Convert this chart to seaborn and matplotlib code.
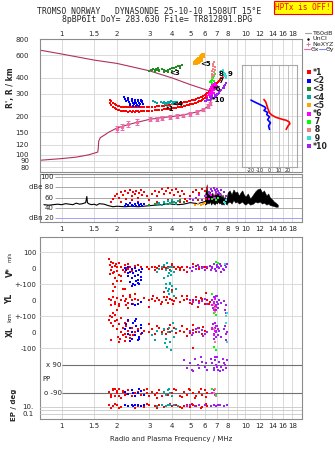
import matplotlib
matplotlib.use("Agg")
import matplotlib.pyplot as plt
from matplotlib.lines import Line2D
from matplotlib.ticker import NullLocator
import seaborn as sns

# ---------------- data ----------------
FREQ_GRID = [1, 1.5, 2, 3, 4, 5, 6, 7, 8, 9, 10, 12, 14, 16, 18]
FREQ_LABELS_OUTER = ['1', '1.5', '2', '3', '4', '5', '6', '7', '8', '', '10', '12', '14', '16', '18']
FREQ_LABELS_MID = ['1', '1.5', '2', '3', '4', '5', '6', '7', '8', '9', '10', '12', '14', '16', '18']
HEIGHT_TICKS = [80, 90, 100, 120, 150, 200, 300, 400, 600, 800]
DBE_TICKS = [100, 80, 60, 40, 20]
DBE_LABELS = ['100', 'dBe 80', '60', '40', 'dBn 20']
TILT_TICKS = [-20, -10, 0, 10, 20]

# main ionogram: trace 1 (band edges)
RED_F = [1.82, 1.86, 1.90, 1.94, 1.98, 2.02, 2.06, 2.10, 2.15, 2.20,
         2.25, 2.30, 2.35, 2.40, 2.45, 2.50, 2.55, 2.60, 2.65, 2.70,
         2.75, 2.80, 2.90, 3.00, 3.10, 3.20, 3.30, 3.40, 3.50, 3.60,
         3.70, 3.80, 3.90, 4.00, 4.10, 4.20, 4.30, 4.40, 4.50, 4.60,
         4.70, 4.80, 4.90, 5.00, 5.10, 5.20, 5.30, 5.40, 5.50, 5.60,
         5.70, 5.80, 5.90, 6.00, 6.10, 6.20, 6.30, 6.40, 6.50, 6.60]
RED_UP = [268, 262, 255, 250, 246, 242, 240, 238, 237, 236,
          236, 235, 236, 235, 236, 235, 236, 236, 235, 236,
          236, 237, 236, 236, 237, 238, 239, 240, 241, 242,
          243, 244, 246, 247, 248, 250, 251, 253, 255, 256,
          258, 260, 262, 264, 266, 268, 270, 272, 275, 278,
          281, 284, 288, 292, 297, 302, 308, 314, 322, 330]
RED_LO = [254, 246, 238, 232, 228, 224, 222, 220, 219, 218,
          218, 217, 218, 217, 218, 217, 218, 218, 217, 218,
          218, 219, 219, 220, 221, 222, 223, 224, 225, 226,
          227, 228, 229, 230, 231, 233, 234, 236, 238, 239,
          241, 243, 245, 247, 249, 251, 253, 255, 258, 261,
          264, 267, 271, 275, 280, 285, 291, 297, 305, 313]
RED_X = [(6.65, 335), (6.72, 345), (6.8, 352), (6.9, 360), (7.0, 366), (7.1, 372),
         (7.2, 378), (7.3, 386), (7.4, 395), (7.5, 405), (7.6, 416), (7.7, 428)]
BLUE_MAIN = [(2.18, 282), (2.22, 272), (2.25, 262), (2.30, 268), (2.33, 258), (2.36, 250),
             (2.40, 262), (2.43, 255), (2.46, 248), (2.50, 258), (2.53, 252), (2.56, 246),
             (2.60, 262), (2.63, 254), (2.66, 248), (2.70, 264), (2.74, 256), (2.78, 250),
             (2.30, 276), (2.40, 272), (2.50, 270), (2.60, 268), (2.70, 270), (2.45, 242),
             (2.55, 240), (2.65, 242), (2.35, 244), (2.75, 262)]
GREEN_MAIN = [(3.00, 450), (3.05, 462), (3.10, 456), (3.15, 470), (3.20, 455), (3.25, 466),
              (3.30, 460), (3.35, 472), (3.40, 462), (3.50, 468), (3.60, 458), (3.70, 452),
              (3.80, 458), (3.90, 466), (4.00, 472), (4.10, 478), (4.20, 485), (4.30, 490),
              (4.40, 496), (4.50, 502), (3.20, 445), (3.40, 448), (3.60, 444), (3.80, 442),
              (4.00, 452), (4.20, 462), (4.40, 474)]
TEAL_MAIN = [(3.12, 262), (3.20, 258), (3.30, 254), (3.45, 256), (3.55, 252), (3.60, 258),
             (3.70, 254), (3.75, 250), (3.80, 258), (3.85, 252), (3.90, 256), (4.00, 250),
             (4.05, 258), (4.10, 254), (4.20, 252), (4.25, 256), (3.65, 248), (3.95, 262),
             (4.15, 260)]
ORANGE_MAIN = [(5.30, 518), (5.35, 522), (5.40, 528), (5.45, 535), (5.50, 542), (5.55, 548),
               (5.60, 555), (5.65, 562), (5.70, 570), (5.75, 578), (5.80, 585), (5.85, 592),
               (5.90, 600), (5.50, 530), (5.60, 540), (5.70, 552)]
MAGENTA_MAIN = [(6.20, 290), (6.30, 295), (6.35, 300), (6.40, 305), (6.45, 310), (6.50, 300),
                (6.55, 320), (6.60, 310), (6.65, 330), (6.70, 318), (6.75, 340), (6.80, 325),
                (6.85, 345), (6.90, 335), (6.95, 352), (7.00, 342), (6.40, 325), (6.50, 340),
                (6.60, 350), (6.70, 355), (6.80, 360), (6.50, 288), (6.60, 296), (6.70, 305),
                (6.45, 280), (6.55, 285)]
LIME_MAIN = [(6.45, 370), (6.50, 378), (6.55, 385), (6.60, 392), (6.65, 400), (6.70, 410),
             (6.75, 418), (6.80, 425), (6.60, 365), (6.70, 375)]
SALMON_MAIN = [(6.55, 410), (6.58, 430), (6.60, 450), (6.62, 470), (6.65, 490), (6.68, 510),
               (6.70, 530), (6.75, 420), (6.60, 400), (6.72, 440), (6.80, 460), (6.85, 480)]
CYAN_MAIN = [(7.30, 440), (7.40, 450), (7.50, 455), (7.55, 445), (7.60, 435), (7.70, 425),
             (7.80, 410), (7.85, 400), (7.50, 420), (7.65, 415)]
PURPLE_MAIN = [(6.00, 262), (6.10, 264), (6.20, 266), (6.30, 268), (6.40, 270), (6.50, 272),
               (6.60, 275), (6.70, 278), (6.80, 282), (6.90, 286), (7.00, 292), (7.10, 298),
               (7.20, 305), (7.30, 312), (7.40, 322), (7.50, 332), (7.60, 342), (7.70, 352),
               (7.80, 365), (6.20, 274), (6.40, 280), (6.60, 286), (6.80, 292), (7.00, 300),
               (7.20, 310), (7.40, 320), (7.60, 330)]
TRACE_LABELS = [("*1", 3.70, 227), ("<4", 3.98, 248), ("<3", 3.84, 431), ("<5", 5.66, 510),
                ("8", 7.1, 426), ("9", 8.04, 426), ("7", 7.1, 376), ("*6", 6.66, 324),
                ("*10", 6.58, 267)]

# NeXYZ points with error bars
NE_F = [2.0, 2.12, 2.3, 2.56, 3.03, 3.28, 3.53, 3.89, 4.23, 4.59, 4.99, 5.43, 5.9, 6.28, 6.42]
NE_H = [160, 165, 173, 181, 189, 191, 195, 197, 200, 203, 209, 215, 225, 240, 251]
NE_ERR = [9, 9, 9, 9, 7, 7, 7, 7, 7, 7, 7, 7, 7, 7, 7]

# real-height profile (bottomside + topside)
PROF_F = [0.757, 1.0, 1.2, 1.4, 1.5, 1.57, 1.58, 1.59, 1.62, 1.7, 1.8, 1.9, 2.0, 2.3, 2.6,
          3.0, 3.5, 4.0, 4.5, 5.0, 5.5, 5.9, 6.28, 6.42, 6.52, 6.6, 6.65, 6.5, 6.3, 6.15,
          5.0, 4.0, 3.0, 2.0, 1.5, 1.0, 0.757]
PROF_H = [90.7, 93.5, 96, 100, 103, 105, 112, 128, 136, 142, 150, 156, 162, 172, 180,
          189, 195, 199, 204, 210, 217, 226, 240, 251, 270, 295, 315, 317, 318, 320,
          353, 397, 452, 516, 548, 611, 656]

# tilt inset
TILT_BLUE_DEG = [-20, -16, -12, -8, -5, -4, -6, -2, -3, 0, -2, 1, -1, 0]
TILT_BLUE_H = [267, 258, 250, 242, 236, 230, 222, 214, 206, 198, 188, 178, 168, 158]
TILT_RED_DEG = [-6, -4, -3, -2, 0, 3, 7, 11, 14, 18, 21, 22, 20, 19, 18]
TILT_RED_H = [270, 258, 245, 232, 212, 203, 196, 192, 189, 186, 181, 175, 168, 163, 158]

# amplitude panel
NOISE_F = [0.80, 0.85, 0.90, 0.95, 1.00, 1.05, 1.10, 1.15, 1.20, 1.25, 1.30, 1.35, 1.37,
           1.38, 1.40, 1.45, 1.50, 1.55, 1.60, 1.70, 1.80, 1.90, 2.00, 2.20, 2.40, 2.60,
           2.80, 3.00, 3.20, 3.50, 3.80, 4.00, 4.30, 4.60, 5.00, 5.50, 6.00]
NOISE_DB = [46, 45, 46, 47, 46, 48, 47, 46, 49, 47, 48, 50, 62, 50, 48, 46, 47, 45, 48,
            47, 44, 42, 43, 42, 43, 42, 43, 44, 45, 46, 48, 47, 46, 47, 50, 48, 52]
BAND_F = [6.0, 6.15, 6.2, 6.3, 6.4, 6.5, 6.6, 6.7, 6.8, 6.9, 7.0, 7.1, 7.2, 7.3, 7.4,
          7.5, 7.6, 7.7, 7.8, 7.9, 8.0, 8.2, 8.4, 8.6, 8.8, 9.0, 9.2, 9.4, 9.6, 9.8,
          10.0, 10.3, 10.6, 11.0, 11.3, 11.6, 12.0, 12.3, 12.6, 13.0, 13.3, 13.6, 14.0,
          14.3, 14.6, 15.0]
BAND_HI = [60, 86, 70, 66, 72, 64, 70, 62, 68, 74, 66, 72, 64, 70, 60, 66, 58, 62, 56, 60,
           70, 74, 66, 76, 70, 72, 64, 70, 74, 66, 62, 68, 58, 66, 72, 76, 78, 70, 74, 64,
           68, 60, 56, 52, 50, 46]
BAND_LO = [46, 48, 50, 48, 52, 46, 50, 48, 46, 50, 48, 52, 48, 50, 46, 48, 46, 50, 48, 46,
           50, 52, 48, 55, 50, 52, 48, 50, 52, 48, 46, 50, 46, 48, 52, 50, 52, 48, 50, 46,
           48, 45, 44, 43, 42, 42]
RED_DB = [(1.85, 52), (1.9, 58), (1.95, 62), (2.0, 66), (2.05, 60), (2.1, 70), (2.15, 64),
          (2.2, 72), (2.25, 58), (2.3, 68), (2.35, 74), (2.4, 62), (2.45, 70), (2.5, 66),
          (2.55, 72), (2.6, 60), (2.65, 68), (2.7, 74), (2.75, 64), (2.8, 70), (2.9, 62),
          (3.0, 56), (3.1, 66), (3.2, 72), (3.3, 62), (3.4, 70), (3.5, 76), (3.6, 66),
          (3.7, 72), (3.8, 78), (3.9, 68), (4.0, 74), (4.1, 64), (4.2, 76), (4.3, 70),
          (4.4, 62), (4.5, 72), (4.6, 66), (4.7, 58), (4.8, 54), (5.0, 62), (5.2, 70),
          (5.4, 74), (5.6, 68), (5.8, 76), (6.0, 72), (6.2, 78), (6.4, 66), (2.1, 52),
          (2.4, 55), (2.6, 52), (3.3, 52), (3.8, 55), (4.4, 52), (5.5, 56), (6.1, 58)]
BLUE_DB = [(2.2, 44), (2.25, 48), (2.3, 45), (2.35, 50), (2.4, 46), (2.45, 43), (2.5, 48),
           (2.55, 44), (2.6, 50), (2.65, 46), (2.7, 48), (2.75, 44), (2.8, 47)]
TEAL_DB = [(3.3, 48), (3.4, 50), (3.5, 46), (3.6, 52), (3.7, 48), (3.8, 54), (3.9, 50),
           (4.0, 56), (4.1, 52), (4.2, 48), (4.3, 54)]
GREEN_DB = [(3.0, 46), (3.2, 48), (3.4, 47), (3.6, 50), (3.8, 48), (4.0, 52), (4.2, 50),
            (4.4, 56), (4.6, 52)]
ORANGE_DB = [(5.3, 46), (5.5, 48), (5.7, 45), (5.9, 47), (6.0, 49)]
PURPLE_DB = [(5.0, 58), (5.2, 55), (5.4, 60), (5.6, 64), (5.8, 56), (6.0, 62), (6.3, 70),
             (6.5, 76), (6.6, 72), (6.7, 78), (6.8, 74), (6.9, 70), (7.0, 76), (7.1, 72),
             (7.2, 68), (7.4, 74), (7.6, 70), (7.8, 62), (6.4, 66), (6.8, 60), (7.3, 64)]
MAGENTA_DB = [(6.1, 62), (6.3, 58), (6.5, 64), (6.7, 60), (6.9, 66)]
LIME_DB = [(6.6, 58), (6.9, 55), (7.1, 60)]
CYAN_DB = [(7.6, 52), (7.8, 55), (7.7, 50)]

# V* (m/s)
RED_V = [(1.8, 60), (1.82, 20), (1.85, 40), (1.88, 10), (1.9, 30), (1.92, -20), (1.95, 15),
         (1.98, 25), (2.0, 5), (2.05, 30), (2.1, 10), (2.15, -10), (2.2, 20), (2.25, 0),
         (2.3, 25), (2.35, 10), (2.4, -5), (2.5, 15), (2.6, 20), (2.7, 5), (2.9, 10),
         (3.0, -5), (3.1, 10), (3.2, 5), (3.3, 0), (3.4, 15), (3.5, -5), (3.6, 10),
         (3.7, 0), (3.8, 5), (3.9, -10), (4.0, 15), (4.1, 5), (4.2, -5), (4.3, 10),
         (4.4, 0), (4.5, 5), (4.6, -10), (4.8, 10), (5.0, 0), (5.2, 5), (5.4, 15),
         (5.6, -5), (5.8, 10), (6.0, 5), (6.2, 0), (1.85, -10), (1.9, -30), (1.95, -60),
         (2.0, -15), (2.05, -40), (2.1, -80), (2.2, -25), (2.3, -5), (2.4, -15),
         (3.2, -10), (3.6, 20), (4.0, 25), (4.4, -10), (4.8, -20), (5.2, 25),
         (1.82, -35), (1.9, -100), (1.95, -115), (2.0, -80), (2.1, -45), (2.15, -130)]
BLUE_V = [(2.2, 0), (2.25, -10), (2.3, 5), (2.35, -20), (2.4, -5), (2.45, -30), (2.5, 0),
          (2.55, -15), (2.6, -40), (2.65, -10), (2.7, -25), (2.75, -5), (2.3, -50),
          (2.4, -60), (2.5, -45), (2.6, -70), (2.7, -55), (2.35, -85), (2.45, -95),
          (2.55, -80), (2.65, -100), (2.4, -110), (2.5, -105), (2.6, -90), (2.3, -30),
          (2.7, -75)]
TEAL_V = [(3.3, -20), (3.4, -5), (3.5, 10), (3.6, 20), (3.7, -10), (3.75, 30), (3.8, 0),
          (3.85, -30), (3.9, 5), (3.95, -15), (4.0, 10), (4.1, -25), (3.6, -60),
          (3.8, -50), (3.9, -90), (4.0, -110), (3.7, -100), (3.85, -130), (3.95, -40)]
PURPLE_V = [(5.0, 0), (5.2, 5), (5.4, -5), (5.6, 10), (5.8, 0), (6.0, -10), (6.2, 5),
            (6.4, 15), (6.6, 10), (6.8, -5), (7.0, 20), (7.2, 0), (7.4, 15), (7.6, -10),
            (7.8, 10), (5.1, -15), (5.5, 20), (5.9, 5), (6.5, -10), (6.7, 25), (6.9, -15),
            (7.1, 10), (7.3, 25), (7.5, -5), (7.7, 20), (6.6, 0), (7.0, 5), (7.4, -20),
            (7.9, 25)]
LIME_V = [(6.9, 40), (7.1, 30)]
CYAN_V = [(7.7, 25)]

# YL (km)
RED_YL = [(1.8, 10), (1.85, 0), (1.9, 20), (1.95, -10), (2.0, 15), (2.05, -20), (2.1, 5),
          (2.15, 25), (2.2, -5), (2.25, 10), (2.3, -15), (2.35, 20), (2.4, 0), (2.45, -25),
          (2.5, 10), (2.6, 5), (2.7, -10), (2.8, 15), (3.0, 0), (3.1, 10), (3.2, -5),
          (3.3, 15), (3.4, 0), (3.5, -10), (3.6, 20), (3.7, 5), (3.8, -15), (3.9, 10),
          (4.0, 0), (4.1, -5), (4.2, 15), (4.4, -10), (4.6, 5), (4.8, 10), (5.0, -15),
          (5.2, 0), (5.4, 20), (5.6, -5), (5.8, 10), (6.0, -20), (6.2, 5), (6.4, -10),
          (1.85, -30), (1.95, -25), (2.05, -35), (2.15, 30), (2.25, -30), (2.35, 35),
          (2.45, -25), (3.15, 25), (3.45, -20), (3.75, 20), (4.05, -25), (4.5, 25),
          (5.1, -20), (5.7, 15), (6.3, -25), (1.9, 60), (2.0, -60), (2.2, 70), (2.3, -50),
          (2.5, 40), (3.0, -40), (3.6, 50), (4.0, 65), (4.8, 30), (5.5, -40), (6.1, 45)]
BLUE_YL = [(2.4, -20), (2.5, -30), (2.6, -25), (2.7, -10)]
TEAL_YL = [(3.7, 80), (3.8, 60), (3.9, 100), (4.0, 50), (4.1, 30), (3.85, 40), (4.2, 70)]
PURPLE_YL = [(5.0, 0), (5.2, -10), (5.4, 5), (5.6, -15), (5.8, -5), (6.0, 10), (6.2, -20),
             (6.6, 0), (6.7, -20), (6.8, 10), (6.9, -30), (7.0, -10), (7.1, -25), (7.2, 5),
             (7.4, -15), (7.6, -5), (7.8, -30), (6.65, -45), (6.75, -55), (6.85, -40),
             (6.95, -60), (7.05, -50), (6.7, 20), (6.8, 15), (6.9, 30), (7.0, 25),
             (7.7, -60), (7.8, -80)]
MAGENTA_YL = [(6.6, -30), (6.7, -10), (6.8, 10), (6.9, -40), (6.75, -60)]
LIME_YL = [(6.6, 40), (6.7, -80), (6.9, -90)]
SALMON_YL = [(6.75, -30), (6.85, -50), (6.8, -70)]
CYAN_YL = [(7.9, -80), (7.8, -100)]

# XL (km)
RED_XL = [(1.8, 80), (1.85, 60), (1.9, 40), (1.95, 70), (2.0, 20), (2.05, 50), (2.1, 0),
          (2.15, 30), (2.2, -10), (2.25, 40), (2.3, 10), (2.35, -20), (2.4, 30), (2.5, 0),
          (2.6, 20), (2.7, -10), (2.8, 10), (3.0, 0), (3.1, 20), (3.2, -10), (3.3, 10),
          (3.4, 30), (3.5, 0), (3.6, 15), (3.7, -10), (3.8, 20), (3.9, 5), (4.0, 10),
          (4.1, 25), (4.2, -5), (4.4, 10), (4.6, 0), (4.8, 20), (5.0, -5), (5.2, 15),
          (5.4, 5), (5.6, 25), (5.8, -10), (6.0, 10), (6.2, 0), (1.82, 100), (1.88, 95),
          (1.95, 110), (2.02, -30), (2.08, -40), (2.15, -20), (2.25, -30), (2.35, -35),
          (2.45, -20), (1.9, 120), (2.0, 80), (2.1, 90), (2.2, 60), (2.3, 70), (3.0, 50),
          (3.3, 40), (3.9, 45), (4.5, 40), (5.2, 45), (5.9, 35), (1.85, -50), (2.05, -60),
          (2.2, -55), (2.4, -45), (5.15, -100), (4.8, -25)]
BLUE_XL = [(2.2, 20), (2.25, 50), (2.3, -10), (2.35, 30), (2.4, 0), (2.45, 60), (2.5, -20),
           (2.55, 40), (2.6, 10), (2.65, -30), (2.7, 25), (2.75, -5), (2.3, 80), (2.4, -40),
           (2.5, 70), (2.6, -50), (2.7, 45), (2.35, -55), (2.55, 85), (2.65, -45)]
TEAL_XL = [(3.1, -20), (3.3, 10), (3.5, -10), (3.6, 20), (3.7, -40), (3.8, 0), (3.85, 30),
           (3.9, -60), (4.0, 10), (4.1, -30), (4.2, 20), (3.75, -90), (3.95, -110),
           (4.05, 60), (3.2, -50), (3.65, -70)]
PURPLE_XL = [(5.0, 10), (5.2, -5), (5.4, 20), (5.6, 0), (5.8, 15), (6.0, -10), (6.2, 5),
             (6.6, 20), (6.7, -10), (6.8, 30), (6.9, 0), (7.0, 40), (7.1, -20), (7.2, 10),
             (7.4, -30), (7.6, 20), (7.8, -10), (5.1, -20), (5.5, 30), (5.9, -25),
             (6.65, 50), (6.75, -40), (6.85, 60), (6.95, -30), (7.05, 20), (7.7, 40),
             (7.8, -50), (7.9, 0), (6.7, -20), (6.9, 10)]
MAGENTA_XL = [(6.6, 30), (6.7, -20), (6.8, 10), (6.9, 40)]
LIME_XL = [(6.9, -110), (6.7, -90)]
SALMON_XL = [(6.8, -60), (6.7, 20)]
CYAN_XL = [(7.9, -60), (7.8, 60)]

# PP (deg)
PURPLE_PP = [(4.6, 120), (4.8, 70), (5.0, 100), (5.1, 60), (5.3, 130), (5.5, 90), (5.6, 70),
             (5.8, 110), (6.0, 80), (6.2, 60), (6.5, 130), (6.6, 100), (6.7, 70), (6.8, 120),
             (6.9, 90), (7.0, 140), (7.1, 60), (7.2, 110), (7.4, 80), (7.5, 130), (7.6, 100),
             (7.8, 70), (7.9, 120), (5.2, 50), (5.7, 140), (6.1, 100), (6.7, 60), (7.0, 80),
             (7.3, 50), (7.7, 90), (6.8, 140), (7.5, 60)]
RED_PP = [(1.8, -80), (1.85, -100), (1.9, -70), (1.95, -110), (2.0, -90), (2.05, -60),
          (2.1, -120), (2.15, -80), (2.2, -100), (2.3, -70), (2.4, -110), (2.5, -90),
          (2.6, -80), (2.7, -100), (2.8, -70), (2.9, -90), (3.0, -110), (3.1, -80),
          (3.2, -100), (3.3, -90), (3.4, -70), (3.5, -110), (3.6, -80), (3.8, -100),
          (4.0, -90), (4.2, -70), (4.4, -110), (4.6, -80), (4.8, -100), (5.0, -70),
          (5.2, -90), (5.4, -110), (5.6, -80), (5.8, -100), (6.0, -70), (6.2, -90),
          (1.85, -115), (1.95, -65), (2.05, -105), (2.15, -75), (2.25, -95), (2.9, -60),
          (3.3, -120), (4.1, -65), (4.5, -115), (4.9, -60), (5.3, -120), (5.7, -65),
          (6.1, -115), (1.9, -60), (2.0, -75), (2.1, -120)]
BLUE_PP = [(2.2, -80), (2.3, -95), (2.4, -70), (2.5, -105), (2.6, -85), (2.7, -75),
           (2.8, -100), (2.45, -90), (2.65, -65)]
TEAL_PP = [(3.6, -80), (3.7, -100), (3.8, -70), (3.9, -90), (4.0, -110), (3.85, -60)]
MAGENTA_PP = [(6.6, -90), (6.7, -70), (6.8, -100)]
SALMON_PP = [(6.75, -85), (6.9, -110), (6.85, -65)]
LIME_PP = [(6.6, -60), (6.95, -100)]

# EP (deg)
RED_EP = [(1.8, 30), (1.9, 15), (2.0, 40), (2.1, 8), (2.2, 25), (2.3, 12), (2.4, 35),
          (2.6, 20), (2.8, 10), (3.0, 30), (3.2, 15), (3.4, 40), (3.6, 8), (3.8, 25),
          (4.0, 12), (4.2, 35), (4.4, 10), (4.6, 20), (4.8, 40), (5.0, 8), (5.2, 30),
          (5.4, 15), (5.6, 35), (5.8, 10), (6.0, 25), (6.2, 20), (1.85, 5), (1.95, 50),
          (2.05, 4), (2.5, 6), (2.9, 45), (3.3, 5), (3.9, 50), (4.5, 4), (5.1, 45),
          (5.7, 6), (6.1, 50)]
BLUE_EP = [(2.2, 30), (2.3, 20), (2.4, 35), (2.5, 25), (2.6, 30), (2.7, 20), (2.8, 35),
           (2.45, 15)]
TEAL_EP = [(3.3, 20), (3.5, 30), (3.7, 15), (3.9, 25), (4.1, 35), (4.3, 20), (3.8, 40)]
PURPLE_EP = [(4.8, 20), (5.0, 30), (5.3, 15), (5.6, 25), (6.0, 35), (6.5, 20), (6.7, 30),
             (6.9, 15), (7.1, 35), (7.3, 25), (7.6, 20), (7.9, 30)]

LEGEND_TRACES = ["*1", "<2", "<3", "<4", "<5", "*6", " 7", " 8", " 9", "*10"]

# ---------------- style ----------------
W, H = 335, 451
FMIN, FMAX = 0.757, 20.3
RED, BLUE, GREEN, TEAL = '#ff0000', '#0000ff', '#228b22', '#00a8a8'
ORANGE, MAGENTA, LIME, SALMON = '#ffa500', '#ff00ff', '#00ff00', '#f08080'
CYAN, PURPLE = '#30e0d8', '#a020f0'
MAROON, PINK = '#b03060', '#ee6aa7'
GRID, FRAME = '#d4d4d4', '#8c8c8c'
TRACE_COLORS = [RED, BLUE, GREEN, TEAL, ORANGE, MAGENTA, LIME, SALMON, CYAN, PURPLE]
S_MAIN, S_LOW = 4.5, 4.5

sns.set_theme(style="white")
plt.rcParams['font.family'] = ['DejaVu Sans']

fig = plt.figure(figsize=(W / 100, H / 100), dpi=100)
fig.patch.set_facecolor('white')


def rect(x0, y0, x1, y1):
    return [x0 / W, 1 - y1 / H, (x1 - x0) / W, (y1 - y0) / H]


def frame(ax, color=FRAME):
    for s in ax.spines.values():
        s.set_visible(True)
        s.set_color(color)
        s.set_linewidth(0.8)


def freq_axis(ax, grid=True):
    ax.set_xscale('log')
    ax.set_xlim(FMIN, FMAX)
    ax.xaxis.set_minor_locator(NullLocator())
    ax.set_xticks(FREQ_GRID)
    if grid:
        for f in FREQ_GRID:
            ax.axvline(f, color=GRID, lw=0.6, zorder=0)


def dots(ax, pairs, color, s=S_LOW, clip=True):
    f = [p[0] for p in pairs]
    v = [p[1] for p in pairs]
    sns.scatterplot(x=f, y=v, ax=ax, color=color, marker='s', s=s, linewidth=0,
                    legend=False, zorder=3, clip_on=clip)


# ---------------- main ionogram ----------------
axm = fig.add_axes(rect(39.5, 39, 302, 172))
freq_axis(axm)
axm.set_yscale('log')
axm.set_ylim(73.5, 800)
axm.yaxis.set_minor_locator(NullLocator())
axm.set_yticks(HEIGHT_TICKS)
axm.set_yticklabels([str(t) for t in HEIGHT_TICKS])
for h in HEIGHT_TICKS:
    axm.axhline(h, color=GRID, lw=0.6, zorder=0)
axm.xaxis.tick_top()
axm.set_xticklabels(FREQ_LABELS_OUTER)
axm.tick_params(axis='x', length=0, labelsize=5, pad=1.6)
axm.tick_params(axis='y', length=0, labelsize=5, pad=7.5)
frame(axm)

axm.plot(PROF_F, PROF_H, color=MAROON, lw=0.8, zorder=2)
axm.errorbar(NE_F, NE_H, yerr=NE_ERR, fmt='s', ms=1.4, color=PINK, ecolor=PINK,
             elinewidth=0.7, capsize=1.2, capthick=0.7, zorder=3)
dots(axm, list(zip(RED_F, RED_UP)), RED, s=S_MAIN)
dots(axm, list(zip(RED_F, RED_LO)), RED, s=S_MAIN)
dots(axm, RED_X, RED, s=S_MAIN)
dots(axm, BLUE_MAIN, BLUE, s=S_MAIN)
dots(axm, GREEN_MAIN, GREEN, s=S_MAIN)
dots(axm, TEAL_MAIN, TEAL, s=S_MAIN)
dots(axm, ORANGE_MAIN, ORANGE, s=6)
dots(axm, MAGENTA_MAIN, MAGENTA, s=S_MAIN)
dots(axm, LIME_MAIN, LIME, s=S_MAIN)
dots(axm, SALMON_MAIN, SALMON, s=S_MAIN)
dots(axm, CYAN_MAIN, CYAN, s=S_MAIN)
dots(axm, PURPLE_MAIN, PURPLE, s=S_MAIN)
for txt, f, h in TRACE_LABELS:
    axm.text(f, h, txt, fontsize=5, fontweight='bold', color='black',
             ha='left', va='center', zorder=5)

fig.text(11 / W, 1 - 88 / H, "R', R / km", rotation=90, fontsize=5.5,
         fontweight='bold', ha='center', va='center')

# tilt inset
axt = fig.add_axes(rect(241.7, 65, 297.3, 167))
axt.patch.set_visible(False)
axt.set_xlim(-30, 30)
axt.set_yscale('log')
axt.set_ylim(80.5, 501)
axt.yaxis.set_minor_locator(NullLocator())
axt.set_yticks([])
axt.set_xticks(TILT_TICKS)
axt.set_xticklabels([str(t) for t in TILT_TICKS])
for t in TILT_TICKS:
    axt.axvline(t, color='#b8b8b8', lw=0.6, zorder=0)
axt.tick_params(axis='x', length=0, labelsize=3.6, pad=0.8)
axt.set_xlabel('Tilt / deg', fontsize=3.6, labelpad=0.3)
frame(axt, '#a8a8a8')
axt.plot(TILT_BLUE_DEG, TILT_BLUE_H, color=BLUE, lw=1.2, zorder=3)
axt.plot(TILT_RED_DEG, TILT_RED_H, color=RED, lw=1.2, zorder=3)

# ---------------- amplitude panel ----------------
axd = fig.add_axes(rect(39.5, 174, 302, 222))
freq_axis(axd)
axd.set_ylim(12.2, 105.9)
axd.set_yticks([])
for v, lab in zip(DBE_TICKS, DBE_LABELS):
    axd.hlines(v, 0.925, FMAX, color=('#a0a0ff' if v == 20 else '#a8a8a8'), lw=0.7, zorder=1)
    axd.text(0.053, v, lab, transform=axd.get_yaxis_transform(), ha='right',
             va='center', fontsize=5)
axd.set_xticklabels(FREQ_LABELS_MID)
axd.tick_params(axis='x', length=0, labelsize=5, pad=3.2)
frame(axd)
axd.plot(NOISE_F, NOISE_DB, color='black', lw=0.8, zorder=2)
axd.fill_between(BAND_F, BAND_LO, BAND_HI, color='black', lw=0.3, zorder=2)
for pairs, c in [(RED_DB, RED), (BLUE_DB, BLUE), (GREEN_DB, GREEN), (TEAL_DB, TEAL),
                 (ORANGE_DB, ORANGE), (PURPLE_DB, PURPLE), (MAGENTA_DB, MAGENTA),
                 (LIME_DB, LIME), (CYAN_DB, CYAN)]:
    dots(axd, pairs, c, s=S_MAIN)

# ---------------- lower panel ----------------
axl = fig.add_axes(rect(39.5, 237, 302, 419))
freq_axis(axl)
axl.set_ylim(0, 1)
axl.set_yticks([])
axl.set_xticklabels(FREQ_LABELS_OUTER)
axl.tick_params(axis='x', length=0, labelsize=5, pad=2.6)
frame(axl)
fig.text(170.7 / W, 1 - 439 / H, 'Radio and Plasma Frequency / MHz', fontsize=5,
         ha='center', va='center')


def band_ax(y0, y1, ylim, scale='linear'):
    a = fig.add_axes(rect(39.5, y0, 302, y1))
    a.set_xscale('log')
    a.set_xlim(FMIN, FMAX)
    a.set_yscale(scale)
    a.set_ylim(*ylim)
    a.patch.set_visible(False)
    for s in a.spines.values():
        s.set_visible(False)
    a.set_xticks([])
    a.xaxis.set_minor_locator(NullLocator())
    a.yaxis.set_minor_locator(NullLocator())
    a.tick_params(axis='y', length=0, labelsize=5, pad=2.2)
    a.grid(False)
    return a


axv = band_ax(237, 300, (-198.1, 195.6))
axv.set_yticks([100, 0, -100])
axv.set_yticklabels(['100', '0', '+-100'])
for v in [100, -100]:
    axv.axhline(v, color=GRID, lw=0.6, zorder=0)

axy = band_ax(276, 324, (-148.1, 151.9))
axy.set_yticks([0, -100])
axy.set_yticklabels(['0', '+-100'])
axy.axhline(-100, color=GRID, lw=0.6, zorder=0)

axx = band_ax(308, 357, (-154.4, 151.9))
axx.set_yticks([0, -100])
axx.set_yticklabels(['0', '-100'])
axx.axhline(-100, color=GRID, lw=0.6, zorder=0)

axp = band_ax(352, 401, (-139.0, 172.7))
axp.set_yticks([])
axp.hlines([90, -90], 1.0, FMAX, color='#707070', lw=0.8, zorder=1)
axp.text(0.0846, 90, 'x 90', transform=axp.get_yaxis_transform(), ha='right',
         va='center', fontsize=5)
axp.text(0.0846, -90, 'o -90', transform=axp.get_yaxis_transform(), ha='right',
         va='center', fontsize=5)
axp.text(0.012, 0, 'PP', transform=axp.get_yaxis_transform(), ha='left',
         va='center', fontsize=5)

axe = band_ax(398, 419, (0.00426, 2420), scale='log')
axe.set_yticks([10, 0.1])
axe.set_yticklabels(['10.', '0.1'])
axe.tick_params(axis='y', pad=4.3)
for v in [10, 1, 0.1]:
    axe.axhline(v, color='#c8c8c8', lw=0.6, zorder=0)

for pairs, c in [(RED_V, RED), (BLUE_V, BLUE), (TEAL_V, TEAL), (PURPLE_V, PURPLE),
                 (LIME_V, LIME), (CYAN_V, CYAN)]:
    dots(axv, pairs, c, clip=False)
for pairs, c in [(RED_YL, RED), (BLUE_YL, BLUE), (TEAL_YL, TEAL), (PURPLE_YL, PURPLE),
                 (MAGENTA_YL, MAGENTA), (LIME_YL, LIME), (SALMON_YL, SALMON),
                 (CYAN_YL, CYAN)]:
    dots(axy, pairs, c, clip=False)
for pairs, c in [(RED_XL, RED), (BLUE_XL, BLUE), (TEAL_XL, TEAL), (PURPLE_XL, PURPLE),
                 (MAGENTA_XL, MAGENTA), (LIME_XL, LIME), (SALMON_XL, SALMON),
                 (CYAN_XL, CYAN)]:
    dots(axx, pairs, c, clip=False)
for pairs, c in [(PURPLE_PP, PURPLE), (RED_PP, RED), (BLUE_PP, BLUE), (TEAL_PP, TEAL),
                 (MAGENTA_PP, MAGENTA), (SALMON_PP, SALMON), (LIME_PP, LIME)]:
    dots(axp, pairs, c, clip=False)
for pairs, c in [(RED_EP, RED), (BLUE_EP, BLUE), (TEAL_EP, TEAL), (PURPLE_EP, PURPLE)]:
    dots(axe, pairs, c, clip=False)

# side labels of the lower panel
fig.text(10 / W, 1 - 272 / H, 'V*', rotation=90, fontsize=5.5, fontweight='bold',
         ha='center', va='center')
fig.text(10 / W, 1 - 257 / H, 'm/s', rotation=90, fontsize=4, ha='center', va='center')
fig.text(10 / W, 1 - 299 / H, 'YL', rotation=90, fontsize=5.5, fontweight='bold',
         ha='center', va='center')
fig.text(10 / W, 1 - 317 / H, 'km', rotation=90, fontsize=4.5, ha='center', va='center')
fig.text(10 / W, 1 - 332 / H, 'XL', rotation=90, fontsize=5.5, fontweight='bold',
         ha='center', va='center')
fig.text(14 / W, 1 - 405 / H, 'EP / deg', rotation=90, fontsize=5, fontweight='bold',
         ha='center', va='center')

# ---------------- header ----------------
fig.text(149 / W, 1 - 12 / H, 'TROMSO NORWAY   DYNASONDE 25-10-10 1508UT 15°E',
         fontsize=5.9, family='DejaVu Sans Mono', ha='center', va='center')
fig.text(157.5 / W, 1 - 19.7 / H, '8pBP6It DoY= 283.630 File= TR812891.BPG',
         fontsize=5.9, family='DejaVu Sans Mono', ha='center', va='center')
fig.text(303 / W, 1 - 7.7 / H, 'HPTx is OFF!', fontsize=5.6, family='DejaVu Sans Mono',
         color='red', ha='center', va='center',
         bbox=dict(boxstyle='square,pad=0.22', fc='#ffff00', ec='red', lw=0.8))

# ---------------- legend ----------------
def fx(x):
    return x / W


def fy(y):
    return 1 - y / H


fig.add_artist(Line2D([fx(305), fx(311)], [fy(33.3)] * 2, color='#a0a0a0', lw=0.8,
                      transform=fig.transFigure))
fig.text(fx(312.5), fy(33.3), 'T60dB', fontsize=4.6, ha='left', va='center')
fig.add_artist(Line2D([fx(308)], [fy(38.7)], marker='.', ms=1.5, color='black', ls='',
                      transform=fig.transFigure))
fig.text(fx(312.5), fy(38.7), 'UnCl', fontsize=4.6, ha='left', va='center')
fig.add_artist(Line2D([fx(308)], [fy(44.3)], marker='+', ms=3.5, mew=0.7, color=PINK,
                      ls='', transform=fig.transFigure))
fig.text(fx(312.5), fy(44.3), 'NeXYZ', fontsize=4.6, ha='left', va='center')
fig.add_artist(Line2D([fx(304), fx(310)], [fy(49.3)] * 2, color=PINK, lw=0.8,
                      transform=fig.transFigure))
fig.text(fx(310.5), fy(49.3), 'Θx', fontsize=4.4, ha='left', va='center')
fig.add_artist(Line2D([fx(319), fx(325)], [fy(49.3)] * 2, color='#8080ff', lw=0.8,
                      transform=fig.transFigure))
fig.text(fx(325.5), fy(49.3), 'Θy', fontsize=4.4, ha='left', va='center')
for i, (lab, c) in enumerate(zip(LEGEND_TRACES, TRACE_COLORS)):
    yy = 72.3 + i * 8.24
    fig.add_artist(Line2D([fx(308.5)], [fy(yy)], marker='s', ms=2.4, mew=0, color=c,
                          ls='', transform=fig.transFigure))
    fig.text(fx(312.5), fy(yy), lab, fontsize=5.6, fontweight='bold', ha='left',
             va='center')

fig.savefig('out.png', dpi=100, facecolor='white')
